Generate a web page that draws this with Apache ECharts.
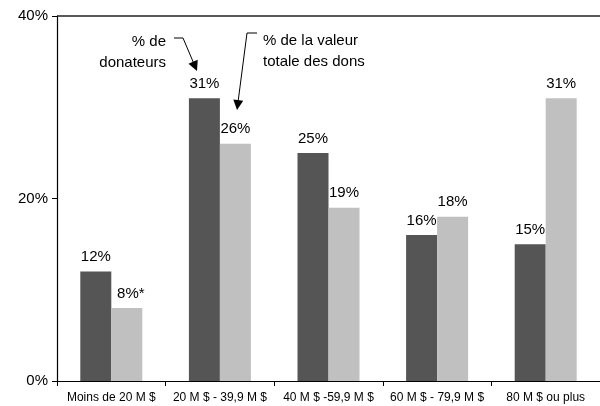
<!DOCTYPE html>
<html>
<head>
<meta charset="utf-8">
<script src="https://cdn.jsdelivr.net/npm/echarts@6/dist/echarts.min.js"></script>
<style>
  html, body { margin: 0; padding: 0; background: #fff; }
  #chart { width: 600px; height: 406px; }
</style>
</head>
<body>
<div id="chart"></div>
<script>
// catégories de taille de succession
const categories = ['Moins de 20 M $', '20 M $ - 39,9 M $', '40 M $ -59,9 M $', '60 M $ - 79,9 M $', '80 M $ ou plus'];
// % de donateurs
const donateurs = [12, 31, 25, 16, 15];
// % de la valeur totale des dons
const valeurDons = [8, 26, 19, 18, 31];
const valeurNotes = ['*', '', '', '', ''];
const yTicks = [0, 20, 40];

const font = '"Liberation Sans", Arial, sans-serif';
const chart = echarts.init(document.getElementById('chart'));

// petite flèche : polyligne + pointe triangulaire
const arrow = (pts) => {
  const [x1, y1] = pts[pts.length - 2];
  const [x2, y2] = pts[pts.length - 1];
  const len = Math.hypot(x2 - x1, y2 - y1);
  const dx = (x2 - x1) / len, dy = (y2 - y1) / len;
  const hl = 10, hw = 5;
  const bx = x2 - dx * hl, by = y2 - dy * hl;
  const line = pts.slice(0, -1).concat([[bx + dx * 2, by + dy * 2]]);
  return [
    { type: 'polyline', shape: { points: line }, style: { stroke: '#000', lineWidth: 1, fill: null } },
    { type: 'polygon', shape: { points: [[x2, y2], [bx - dy * hw, by + dx * hw], [bx + dy * hw, by - dx * hw]] }, style: { fill: '#000' } }
  ];
};

const labelStyle = { fontFamily: font, fontSize: 15, color: '#000' };

const option = {
  animation: false,
  backgroundColor: '#fff',
  grid: { left: 57, right: -7, top: 16, bottom: 25 },
  xAxis: {
    type: 'category',
    data: categories,
    axisLine: { lineStyle: { color: '#000', width: 1.2 } },
    axisTick: { show: true, length: 5, lineStyle: { color: '#000' } },
    axisLabel: { interval: 0, fontFamily: font, fontSize: 12, color: '#000', margin: 11 }
  },
  yAxis: {
    type: 'value',
    min: 0,
    max: 40,
    interval: 20,
    axisLine: { show: true, lineStyle: { color: '#000', width: 1.2 } },
    axisTick: { show: true, length: 5, lineStyle: { color: '#000' } },
    splitLine: { show: false },
    axisLabel: {
      fontFamily: font, fontSize: 15, color: '#000', margin: 9,
      formatter: (v) => yTicks.includes(v) ? v + '%' : ''
    }
  },
  series: [
    {
      name: '% de donateurs',
      type: 'bar',
      data: donateurs,
      barWidth: 31,
      barGap: '0%',
      itemStyle: { color: '#555555' },
      label: { show: true, position: 'top', distance: 7, formatter: '{c}%', ...labelStyle },
      markLine: {
        silent: true,
        symbol: 'none',
        label: { show: false },
        lineStyle: { color: '#222', width: 1.5, type: 'solid' },
        data: [{ yAxis: 40 }]
      }
    },
    {
      name: '% de la valeur totale des dons',
      type: 'bar',
      data: valeurDons.map((v, i) => ({
        value: v,
        label: valeurNotes[i] ? { offset: [4, 0] } : undefined
      })),
      barWidth: 31,
      itemStyle: { color: '#c0c0c0' },
      label: {
        show: true, position: 'top', distance: 7, ...labelStyle,
        formatter: (p) => p.value + '%' + valeurNotes[p.dataIndex]
      }
    }
  ],
  graphic: [
    { type: 'text', x: 166, y: 31, style: { text: '% de\ndonateurs', align: 'right', verticalAlign: 'top', lineHeight: 21, fontFamily: font, fontSize: 15, fill: '#000' } },
    { type: 'text', x: 263, y: 30, style: { text: '% de la valeur\ntotale des dons', align: 'left', verticalAlign: 'top', lineHeight: 21, fontFamily: font, fontSize: 15, fill: '#000' } },
    ...arrow([[174, 38], [183, 38], [197, 71]]),
    ...arrow([[257, 33], [247, 33], [237, 110]])
  ]
};

chart.setOption(option);
</script>
</body>
</html>
